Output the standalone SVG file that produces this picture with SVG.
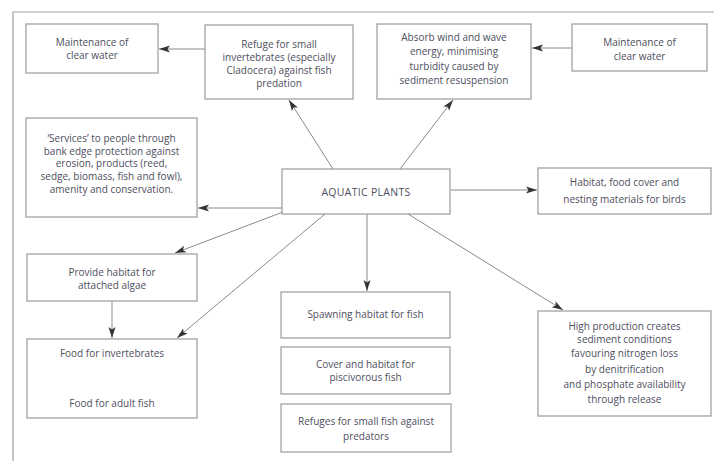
<svg xmlns="http://www.w3.org/2000/svg" width="714" height="461" viewBox="0 0 714 461">
<style>
.box{fill:#fff;stroke:#9a9a9a;stroke-width:1.2}
.t{font-family:"Open Sans","Liberation Sans",sans-serif;font-size:10px;fill:#4e4e5e;text-anchor:middle}
.c{stroke:#8a8a8a;stroke-width:1;fill:none;marker-end:url(#ah)}
.frame{stroke:#a0a0a0;stroke-width:1.2;fill:none}
</style>
<defs>
<marker id="ah" markerUnits="userSpaceOnUse" markerWidth="12" markerHeight="8" refX="11" refY="4" orient="auto">
<path d="M0,0.5 L11,4 L0,7.5 L2.5,4 z" fill="#333"/>
</marker>
</defs>
<rect width="714" height="461" fill="#fff"/>
<path class="frame" d="M714,12 H13 V461"/>

<g id="connectors">
<line class="c" x1="205" y1="49" x2="159" y2="49"/>
<line class="c" x1="572" y1="48" x2="532" y2="48"/>
<line class="c" x1="333" y1="169" x2="289" y2="100"/>
<line class="c" x1="400" y1="169" x2="453" y2="100"/>
<line class="c" x1="282" y1="208" x2="198" y2="208"/>
<line class="c" x1="451" y1="190" x2="537" y2="190"/>
<line class="c" x1="283" y1="212" x2="175" y2="253"/>
<line class="c" x1="325" y1="214" x2="177" y2="338"/>
<line class="c" x1="367" y1="214" x2="367" y2="291"/>
<line class="c" x1="408" y1="214" x2="563" y2="310"/>
<line class="c" x1="112" y1="301" x2="112" y2="338"/>
<line class="c" x1="112" y1="364" x2="112" y2="385"/>
</g>

<g id="clear-water-left">
<rect class="box" x="26" y="24" width="132" height="49"/>
<text class="t" x="92" y="45.5">Maintenance of</text>
<text class="t" x="92" y="59">clear water</text>
</g>

<g id="refuge-invertebrates">
<rect class="box" x="205" y="25" width="148" height="74"/>
<text class="t" x="279" y="48">Refuge for small</text>
<text class="t" x="279" y="61">invertebrates (especially</text>
<text class="t" x="279" y="74">Cladocera) against fish</text>
<text class="t" x="279" y="87">predation</text>
</g>

<g id="absorb-wind">
<rect class="box" x="377" y="24" width="154" height="75"/>
<text class="t" x="454" y="40.5">Absorb wind and wave</text>
<text class="t" x="454" y="55">energy, minimising</text>
<text class="t" x="454" y="69.5">turbidity caused by</text>
<text class="t" x="454" y="84">sediment resuspension</text>
</g>

<g id="clear-water-right">
<rect class="box" x="572" y="24" width="135" height="47"/>
<text class="t" x="639.5" y="46">Maintenance of</text>
<text class="t" x="639.5" y="59.5">clear water</text>
</g>

<g id="services">
<rect class="box" x="26" y="118" width="171" height="99"/>
<text class="t" x="111.5" y="141.5">‘Services’ to people through</text>
<text class="t" x="111.5" y="154.5">bank edge protection against</text>
<text class="t" x="111.5" y="167">erosion, products (reed,</text>
<text class="t" x="111.5" y="179.5">sedge, biomass, fish and fowl),</text>
<text class="t" x="111.5" y="192.5">amenity and conservation.</text>
</g>

<g id="aquatic-plants">
<rect class="box" x="282" y="169" width="168" height="45"/>
<text class="t" x="366" y="195.5" style="font-size:10.5px;letter-spacing:0.3px">AQUATIC PLANTS</text>
</g>

<g id="habitat-birds">
<rect class="box" x="538" y="168" width="173" height="46"/>
<text class="t" x="624.5" y="186">Habitat, food cover and</text>
<text class="t" x="624.5" y="202.5">nesting materials for birds</text>
</g>

<g id="attached-algae">
<rect class="box" x="27" y="254" width="170" height="47"/>
<text class="t" x="112" y="275.5">Provide habitat for</text>
<text class="t" x="112" y="289">attached algae</text>
</g>

<g id="food-invertebrates">
<rect class="box" x="27" y="339" width="170" height="79"/>
<text class="t" x="112" y="356.5">Food for invertebrates</text>
<text class="t" x="112" y="406.5">Food for adult fish</text>
</g>

<g id="spawning">
<rect class="box" x="281" y="292" width="169" height="46"/>
<text class="t" x="365.5" y="317.5">Spawning habitat for fish</text>
</g>

<g id="piscivorous">
<rect class="box" x="281" y="347" width="169" height="47"/>
<text class="t" x="365.5" y="367.5">Cover and habitat for</text>
<text class="t" x="365.5" y="381">piscivorous fish</text>
</g>

<g id="refuges-fish">
<rect class="box" x="281" y="404" width="170" height="48"/>
<text class="t" x="366" y="425">Refuges for small fish against</text>
<text class="t" x="366" y="440">predators</text>
</g>

<g id="high-production">
<rect class="box" x="538" y="311" width="173" height="105"/>
<text class="t" x="624.5" y="329.5">High production creates</text>
<text class="t" x="624.5" y="343">sediment conditions</text>
<text class="t" x="624.5" y="356.5">favouring nitrogen loss</text>
<text class="t" x="624.5" y="373">by denitrification</text>
<text class="t" x="624.5" y="388">and phosphate availability</text>
<text class="t" x="624.5" y="403">through release</text>
</g>
</svg>
